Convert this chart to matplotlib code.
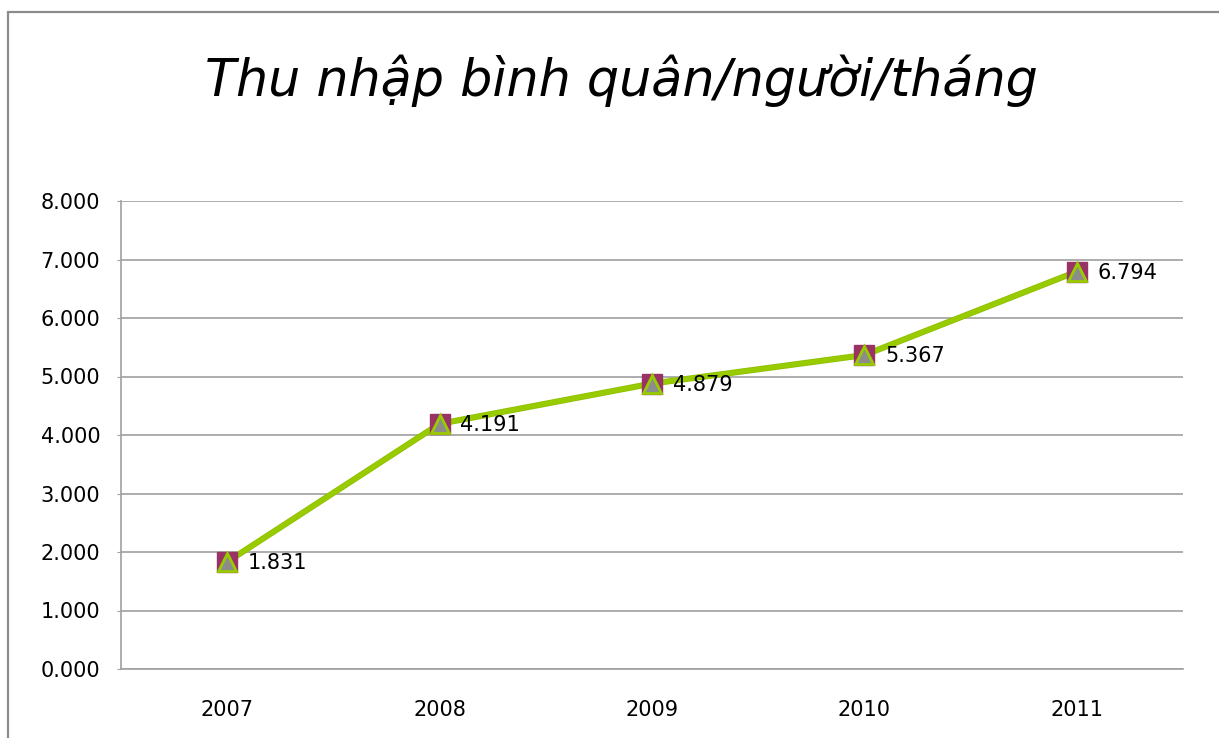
import matplotlib.pyplot as plt
from matplotlib.patches import Rectangle

years = ["2007", "2008", "2009", "2010", "2011"]
income = [1.831, 4.191, 4.879, 5.367, 6.794]
y_ticks = [0, 1, 2, 3, 4, 5, 6, 7, 8]

W, H = 1219, 738
fig = plt.figure(figsize=(W / 100, H / 100), dpi=100)
ax = fig.add_axes([121 / W, 1 - 669 / H, (1183 - 121) / W, (669 - 201) / H])

# khung bao ngoai (bi cat o ben phai va ben duoi)
fig.patches.append(Rectangle((8 / W, -0.5), 2, 1.5 - 12 / H, transform=fig.transFigure,
                             fill=False, ec="#8c8c8c", lw=1.6))

x = list(range(len(years)))
ax.plot(x, income, color="#8fbf00", lw=4.4, zorder=3)
ax.plot(x, income, color="#99cc00", lw=3.2, zorder=3)
ax.plot(x, income, ls="none", marker="s", ms=15, mfc="#993366", mec="#993366", zorder=4)
ax.plot(x, income, ls="none", marker="^", ms=13, mfc="#8c8c8c", mec="#99cc00", mew=2, zorder=5)

for xi, v in zip(x, income):
    ax.annotate(f"{v:.3f}", (xi, v), xytext=(15, -1), textcoords="offset points",
                va="center", ha="left", fontsize=15, family="DejaVu Sans")

ax.set_xlim(-0.5, len(years) - 0.5)
ax.set_ylim(0, 8)
ax.set_yticks(y_ticks)
ax.set_yticklabels([f"{t:.3f}" for t in y_ticks])
ax.set_xticks(x)
ax.set_xticklabels(years)
ax.grid(axis="y", color="#a0a0a0", lw=1.2)
ax.set_axisbelow(True)
for s in ["top", "right"]:
    ax.spines[s].set_visible(False)
for s in ["left", "bottom"]:
    ax.spines[s].set_color("#a0a0a0")
    ax.spines[s].set_linewidth(1.2)
ax.tick_params(axis="y", length=3, color="#a0a0a0", pad=12, labelsize=15)
ax.tick_params(axis="x", length=0, pad=22, labelsize=15)

fig.text(621 / W, 1 - 96 / H, "Thu nhập bình quân/người/tháng", ha="center", va="baseline",
         fontsize=36.5, style="italic", family="DejaVu Sans")

fig.savefig("out.png", dpi=100)
